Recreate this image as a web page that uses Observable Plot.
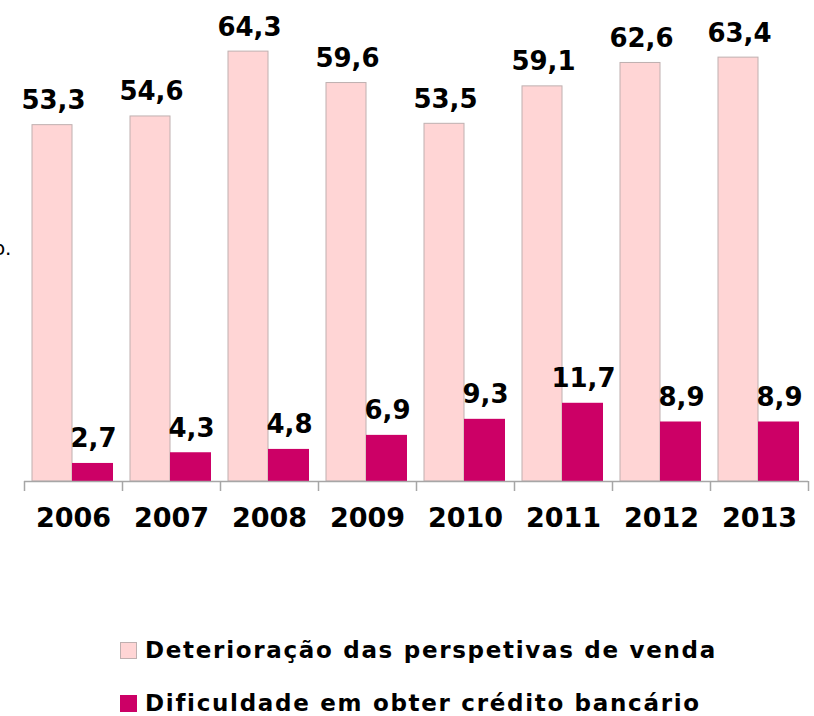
<!DOCTYPE html>
<html>
<head>
<meta charset="utf-8">
<script src="https://cdn.jsdelivr.net/npm/d3@7"></script>
<script src="https://cdn.jsdelivr.net/npm/@observablehq/plot@0.6"></script>
<style>
  body { margin: 0; background: #fff; font-family: "DejaVu Sans", sans-serif; }
  #wrap { position: relative; width: 814px; height: 716px; overflow: hidden; }
  #stray { position: absolute; left: -7px; top: 236px; font-size: 20px; color: #000; }
  .leg { position: absolute; left: 120px; display: flex; align-items: center; font-size: 23px; letter-spacing: 1.7px; font-weight: bold; color: #000; white-space: nowrap; }
  .sw { width: 17px; height: 17px; box-sizing: border-box; margin-right: 8px; }
</style>
</head>
<body>
<div id="wrap">
  <div id="chart"></div>
  <div id="stray">o.</div>
  <div id="legend"></div>
</div>
<script>
const years = ["2006", "2007", "2008", "2009", "2010", "2011", "2012", "2013"];
const deterioracao = [53.3, 54.6, 64.3, 59.6, 53.5, 59.1, 62.6, 63.4];
const dificuldade = [2.7, 4.3, 4.8, 6.9, 9.3, 11.7, 8.9, 8.9];
const seriesNames = ["Deterioração das perspetivas de venda", "Dificuldade em obter crédito bancário"];
const colors = ["#FFD5D5", "#CC0066"];

const d1 = years.map((y, i) => ({year: y, value: deterioracao[i]}));
const d2 = years.map((y, i) => ({year: y, value: dificuldade[i]}));
const fmt = v => v.toFixed(1).replace(".", ",");

const labelStyle = {
  fontSize: 26, fontWeight: "bold", fontFamily: "DejaVu Sans", fill: "#000",
  textAnchor: "middle", lineAnchor: "bottom", style: "letter-spacing: 1.5px"
};

const chart = Plot.plot({
  width: 814, height: 560,
  marginLeft: 24, marginRight: 6, marginTop: 13, marginBottom: 79,
  x: {domain: years, padding: 0, axis: null},
  y: {domain: [0, 70], axis: null},
  marks: [
    Plot.barY(d1, {x: "year", y: "value", fill: colors[0], stroke: "#bfb0b0", strokeWidth: 1, insetLeft: 8, insetRight: 50}),
    Plot.barY(d2, {x: "year", y: "value", fill: colors[1], insetLeft: 48, insetRight: 9}),
    Plot.ruleY([0], {stroke: "#a6a6a6", strokeWidth: 1.5}),
    Plot.ruleX(years, {x: d => d, dx: -49, y1: 0, y2: -1.5, stroke: "#a6a6a6", strokeWidth: 1.5}),
    Plot.ruleX([years[years.length - 1]], {x: d => d, dx: 49, y1: 0, y2: -1.5, stroke: "#a6a6a6", strokeWidth: 1.5}),
    Plot.text(d1, {x: "year", y: "value", text: d => fmt(d.value), dx: -20, dy: -16, ...labelStyle}),
    Plot.text(d2, {x: "year", y: "value", text: d => fmt(d.value), dx: 20, dy: -16, ...labelStyle}),
    Plot.text(years, {x: d => d, y: 0, text: d => d, dy: 37, fontSize: 27, fontWeight: "bold", fontFamily: "DejaVu Sans", fill: "#000", textAnchor: "middle", lineAnchor: "middle"})
  ]
});
document.getElementById("chart").appendChild(chart);

const legend = document.getElementById("legend");
seriesNames.forEach((name, i) => {
  const row = document.createElement("div");
  row.className = "leg";
  row.style.top = (i === 0 ? 637 : 690) + "px";
  const sw = document.createElement("div");
  sw.className = "sw";
  sw.style.background = colors[i];
  if (i === 0) sw.style.border = "1px solid #bfb0b0";
  const t = document.createElement("span");
  t.textContent = name;
  row.appendChild(sw);
  row.appendChild(t);
  legend.appendChild(row);
});
</script>
</body>
</html>
